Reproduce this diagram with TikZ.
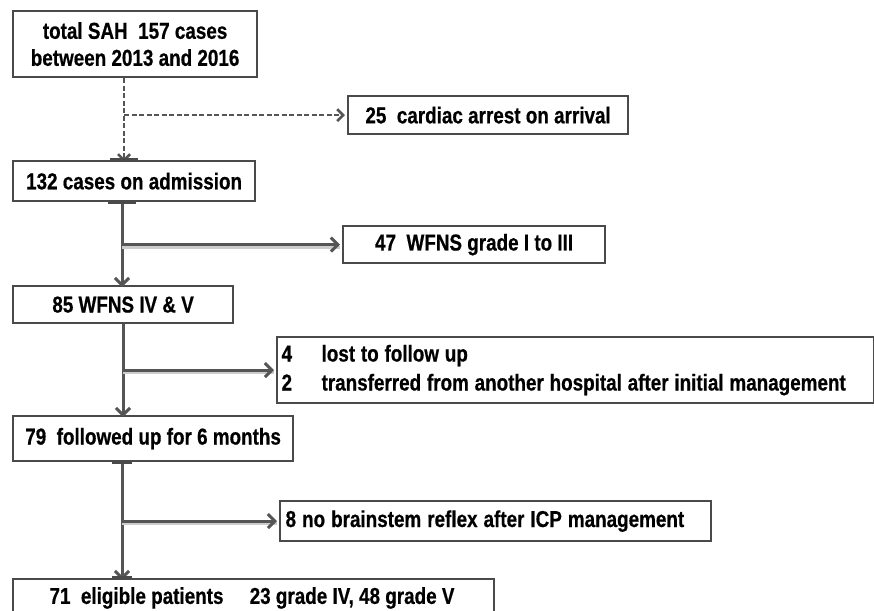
\documentclass[tikz,border=0pt]{standalone}
\usepackage{fontspec}
\setmainfont{Liberation Sans}[FakeStretch=0.82, BoldFeatures={FakeBold=0.6}]
\usetikzlibrary{arrows.meta}
\definecolor{linegray}{HTML}{555555}
\definecolor{boxgray}{HTML}{4A4A4A}
\newcommand\tightspA{\spaceskip=5.8pt\relax}
\newcommand\tightspB{\spaceskip=6pt\relax}
\tikzset{
  box/.style={draw=boxgray, line width=2.2pt, anchor=north west, inner sep=0pt,
    font=\fontsize{23}{27}\selectfont\bfseries, text=black},
  vconn/.style={draw=linegray, line width=3pt,
    -{Straight Barb[length=7pt,width=14pt,line width=3pt]}},
  conn/.style={vconn,
    preaction={draw=black!20, line width=3pt, -, transform canvas={shift={(0pt,-2.5pt)}}}},
  dconn/.style={draw=linegray, line width=2.6pt, dash pattern=on 5pt off 2.5pt,
    -{Straight Barb[length=6pt,width=12pt,line width=2.6pt]}},
  tab/.style={draw=boxgray, line width=3.5pt}
}
\begin{document}
\begin{tikzpicture}[x=1pt,y=-1pt]
\useasboundingbox (0,0) rectangle (874,610);
% boxes
\node[box, minimum width=244pt, minimum height=66pt, align=center] (b1) at (12,10)
  {total SAH\ \ 157 cases\\between 2013 and 2016};
\node[box, minimum width=280pt, minimum height=38pt] (b2) at (347,95)
  {25\ \ cardiac arrest on arrival};
\node[box, minimum width=242pt, minimum height=40pt] (b3) at (12,160)
  {132 cases on admission};
\node[box, minimum width=262pt, minimum height=37pt] (b4) at (342,225)
  {47\ \ WFNS grade I to III};
\node[box, minimum width=220pt, minimum height=37pt] (b5) at (12,285)
  {85 WFNS IV \& V};
\node[box, minimum width=597pt, minimum height=66pt, align=left, text width=588pt,
  font=\fontsize{23}{29}\selectfont\bfseries] (b6) at (276,336)
  {\tightspA\makebox[40pt][l]{4}lost to follow up\\\makebox[40pt][l]{2}transferred from another hospital after initial management};
\node[box, minimum width=280pt, minimum height=45pt] (b7) at (12,415)
  {79\ \ followed up for 6 months};
\node[box, minimum width=431pt, minimum height=40pt, align=left, text width=420pt] (b8) at (279,500)
  {\tightspB 8 no brainstem reflex after ICP management};
\node[box, minimum width=481pt, minimum height=44pt] (b9) at (12,578) {};
\node[font=\fontsize{23}{27}\selectfont\bfseries, anchor=center] (t9) at (252,598)
  {71\ \ eligible patients\ \ \ \ \ 23 grade IV, 48 grade V};
% spines
\coordinate (s1) at (124,0);
\coordinate (s2) at (122,0);
\coordinate (s3) at (123,0);
\coordinate (s4) at (122,0);
% connectors
\draw[dconn] (b1.south -| s1) -- ([yshift=-2pt]b3.north -| s1);
\draw[dconn] (s1 |- b2.west) -- ([xshift=-2pt]b2.west);
\draw[vconn] (b3.south -| s2) -- ([yshift=-2pt]b5.north -| s2);
\draw[conn] (s2 |- b4.west) -- ([xshift=-2pt]b4.west);
\draw[vconn] (b5.south -| s3) -- ([yshift=-2pt]b7.north -| s3);
\draw[conn] (s3 |- b6.west) -- ([xshift=-2pt]b6.west);
\draw[vconn] (b7.south -| s4) -- ([yshift=-2pt]b9.north -| s4);
\draw[conn] (s4 |- b8.west) -- ([xshift=-2pt]b8.west);
% small tabs on box borders
\draw[tab] ([xshift=-14pt]b3.north -| s1) -- ([xshift=14pt]b3.north -| s1);
\draw[tab] ([xshift=-14pt]b3.south -| s2) -- ([xshift=14pt]b3.south -| s2);
\draw[tab] ([xshift=-10pt]b7.south -| s4) -- ([xshift=10pt]b7.south -| s4);
\draw[tab] ([xshift=-10pt]b9.north -| s4) -- ([xshift=10pt]b9.north -| s4);
\end{tikzpicture}
\end{document}
